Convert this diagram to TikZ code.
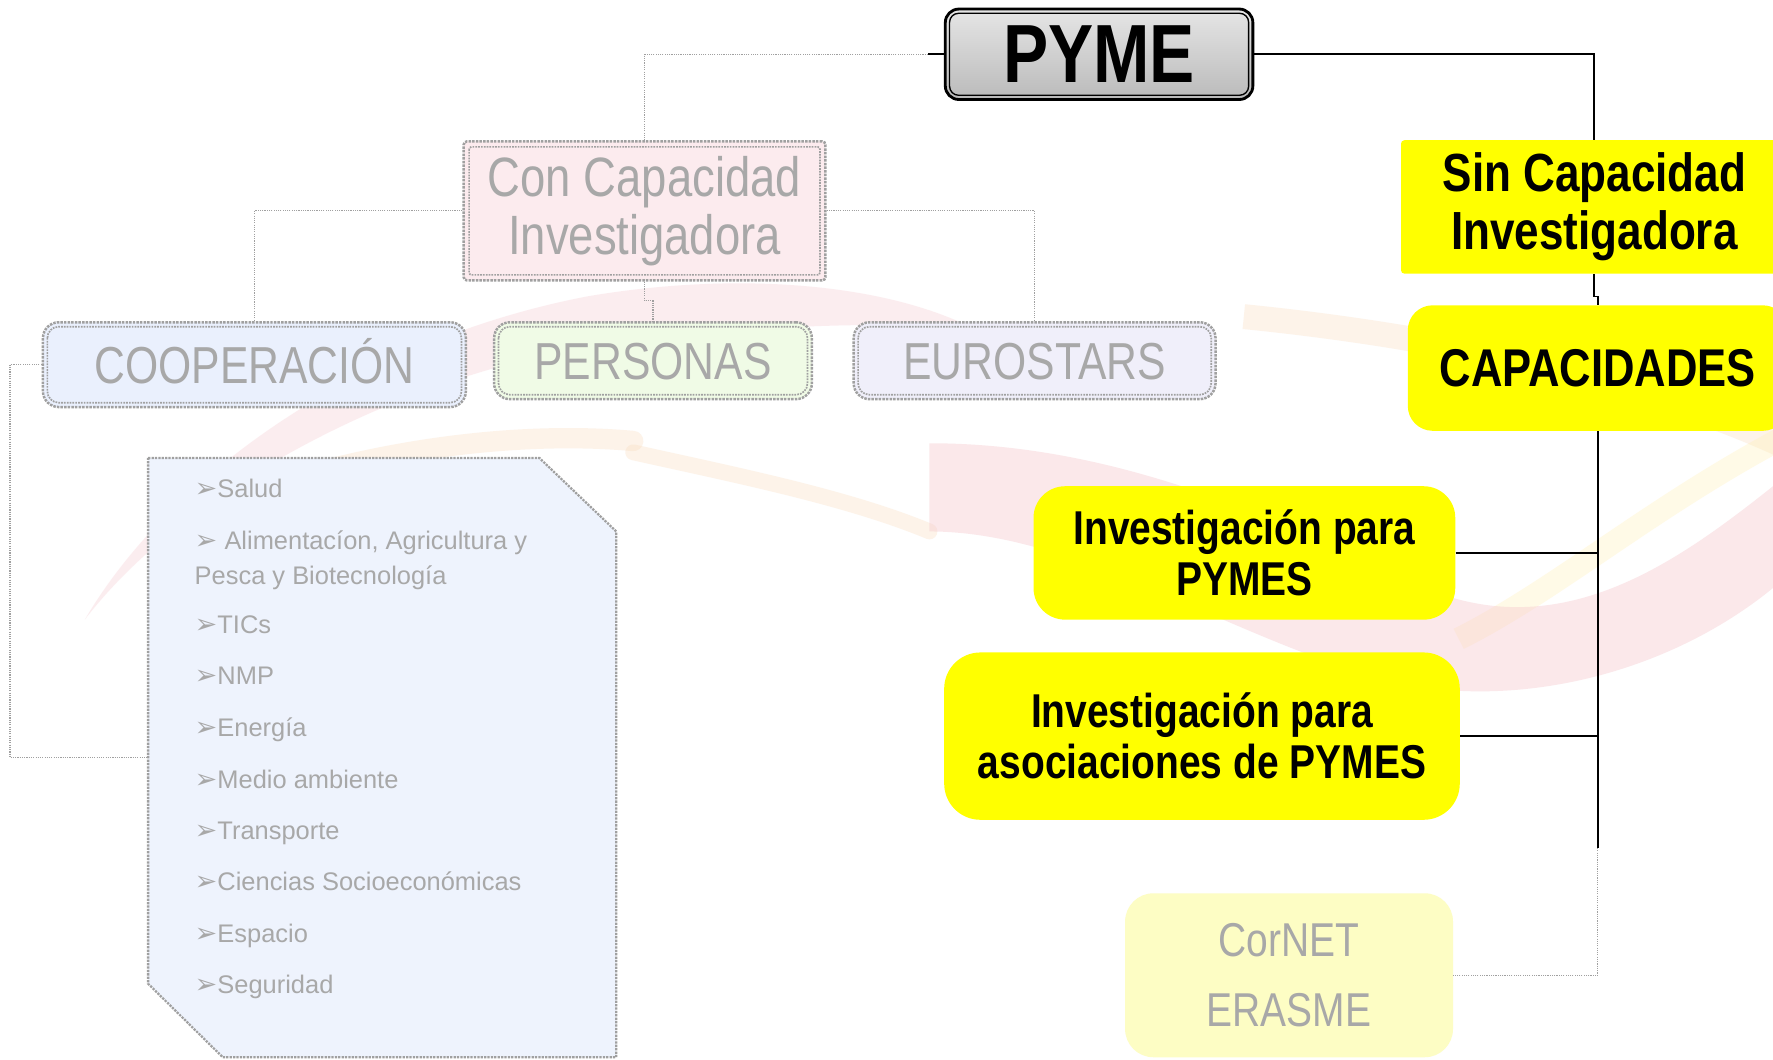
\documentclass[tikz,border=0pt]{standalone}
\usepackage{fontspec}
\setmainfont{Liberation Sans}
\newfontfamily\narrow[FakeStretch=0.82]{Liberation Sans}
\newfontfamily\dingfont{DejaVu Sans}
\definecolor{ylw}{HTML}{FFFF00}
\definecolor{pinkf}{HTML}{FCEBEE}
\definecolor{bluef}{HTML}{EAF0FD}
\definecolor{greenf}{HTML}{F0FBE6}
\definecolor{lavf}{HTML}{F0EFFA}
\definecolor{listf}{HTML}{EEF3FD}
\definecolor{cornf}{HTML}{FDFDC4}
\definecolor{fadetxt}{HTML}{A8A8A8}
\definecolor{fadeline}{HTML}{A0A0A0}
\definecolor{pinkwm}{HTML}{F5C6CC}
\definecolor{orangewm}{HTML}{F9D9B8}
\definecolor{yellowwm}{HTML}{FFF0B0}
\newcommand\arr{{\dingfont\fontsize{24}{26}\selectfont ➢}}
\tikzset{
  ybox/.style={fill=ylw, inner sep=0pt, align=center, text=black},
  fbox/.style={draw=fadeline, densely dotted, line width=2.2pt, inner sep=0pt, align=center, text=fadetxt},
  finner/.style={draw=fadeline, densely dotted, line width=1.5pt},
  fline/.style={draw=fadeline, densely dotted, line width=1pt},
  bline/.style={draw=black, line width=1.6pt},
  litem/.style={anchor=mid west, inner sep=0pt, text=fadetxt, font=\fontsize{22.5}{31}\selectfont, align=left},
}
\begin{document}
\begin{tikzpicture}[x=1pt, y=-1pt]
\clip (0,0) rectangle (1568,937);
\fill[white] (0,0) rectangle (1568,937);

% background watermark
\begin{scope}[opacity=0.3]
  \fill[pinkwm] (75,548) .. controls (150,420) and (320,300) .. (520,262) .. controls (650,240) and (780,250) .. (860,290) .. controls (760,282) and (560,292) .. (450,322) .. controls (300,362) and (150,450) .. (75,548) -- cycle;
  \draw[orangewm, line width=18pt, line cap=round] (170,455) .. controls (300,400) and (450,380) .. (560,390);
  \draw[orangewm, line width=14pt, line cap=round] (560,400) .. controls (650,420) and (750,440) .. (822,470);
  \draw[orangewm, line width=22pt] (1100,280) .. controls (1250,295) and (1450,330) .. (1600,405);
  \draw[yellowwm, line width=20pt] (1290,565) .. controls (1380,520) and (1470,440) .. (1600,375);
\end{scope}
\begin{scope}
  \clip (822,0) rectangle (1568,937);
  \fill[pinkwm, opacity=0.4] (822,392) .. controls (1000,392) and (1150,470) .. (1260,520) .. controls (1380,570) and (1480,500) .. (1568,430) -- (1568,520) .. controls (1470,600) and (1330,630) .. (1220,600) .. controls (1080,560) and (950,470) .. (822,470) -- cycle;
\end{scope}

% faded boxes
\node[fbox, fill=pinkf, rounded corners=3pt, minimum width=320pt, minimum height=123pt,
      font=\narrow\fontsize{49}{51}\selectfont] (concap) at (570,186.5) {Con Capacidad\\Investigadora};
\node[fbox, fill=bluef, rounded corners=14pt, minimum width=374pt, minimum height=75pt,
      text height=33pt, text depth=0pt,
      font=\narrow\fontsize{46}{50}\selectfont] (coop) at (225,322.5) {COOPERACIÓN};
\node[fbox, fill=greenf, rounded corners=14pt, minimum width=281pt, minimum height=68pt,
      text height=33pt, text depth=0pt,
      font=\narrow\fontsize{46}{50}\selectfont] (pers) at (577.5,319) {PERSONAS};
\node[fbox, fill=lavf, rounded corners=14pt, minimum width=320pt, minimum height=68pt,
      text height=33pt, text depth=0pt,
      font=\narrow\fontsize{46}{50}\selectfont] (euro) at (915,319) {EUROSTARS};
\draw[finner, rounded corners=2pt] ([shift={(6,6)}]concap.north west) rectangle ([shift={(-6,-6)}]concap.south east);
\foreach \n in {coop,pers,euro}
  \draw[finner, rounded corners=10pt] ([shift={(5,5)}]\n.north west) rectangle ([shift={(-5,-5)}]\n.south east);

% list box
\draw[fill=listf, draw=fadeline, densely dotted, line width=2pt]
  (131,405) -- (477,405) -- (545,470) -- (545,935) -- (197,935) -- (131,870) -- cycle;
\coordinate (listL) at (131,670);
\node[litem] (i1) at (172,437) {\arr Salud};
\node[litem] (i2) at (172,483) {\arr\ Alimentacíon, Agricultura y};
\node[litem] (i2b) at (172,514) {Pesca y Biotecnología};
\node[litem] (i3) at (172,558) {\arr TICs};
\node[litem] (i4) at (172,603) {\arr NMP};
\node[litem] (i5) at (172,649) {\arr Energía};
\node[litem] (i6) at (172,695) {\arr Medio ambiente};
\node[litem] (i7) at (172,740) {\arr Transporte};
\node[litem] (i8) at (172,785) {\arr Ciencias Socioeconómicas};
\node[litem] (i9) at (172,831) {\arr Espacio};
\node[litem] (i10) at (172,876) {\arr Seguridad};

% CorNET
\node[fill=cornf, rounded corners=25pt, minimum width=290pt, minimum height=145pt, inner sep=0pt,
      text=fadetxt, align=center, font=\narrow\fontsize{42}{62}\selectfont] (cornet) at (1140,862.5) {CorNET\\ERASME};

% PYME
\node[rounded corners=12pt, top color=black!10, bottom color=black!27, draw=black, line width=2.5pt,
      minimum width=272pt, minimum height=80pt, inner sep=0pt,
      font=\narrow\bfseries\fontsize{73}{80}\selectfont] (pyme) at (972,48) {PYME};
\draw[black, line width=1.2pt, rounded corners=8pt] ([shift={(5,5)}]pyme.north west) rectangle ([shift={(-5,-5)}]pyme.south east);

% yellow boxes
\node[ybox, rounded corners=3pt, minimum width=342pt, minimum height=118pt,
      font=\narrow\bfseries\fontsize{47.5}{51}\selectfont] (sincap) at (1410,183) {Sin Capacidad\\Investigadora};
\node[ybox, rounded corners=22pt, minimum width=336pt, minimum height=111pt,
      font=\narrow\bfseries\fontsize{47}{50}\selectfont] (capac) at (1413,325.5) {CAPACIDADES};
\node[ybox, rounded corners=28pt, minimum width=373pt, minimum height=118pt,
      font=\narrow\bfseries\fontsize{42}{45}\selectfont] (invp) at (1100.5,489) {Investigación para\\PYMES};
\node[ybox, rounded corners=32pt, minimum width=456pt, minimum height=148pt,
      font=\narrow\bfseries\fontsize{42}{45}\selectfont] (inva) at (1063,651) {Investigación para\\asociaciones de PYMES};

% connectors
\coordinate (vend) at (1413,750);
\draw[fline] (pyme.west) -| (concap.north);
\draw[bline] (pyme.west) -- ++(-14,0);
\draw[bline] (pyme.east) -| (sincap.north);
\draw[bline] (sincap.south) -- ++(0,20) -- ++(3,0) -- (capac.north);
\draw[bline] (capac.south) -- (vend);
\draw[fline] (vend) |- (cornet.east);
\draw[bline] (invp.east) -- (invp.east -| vend);
\draw[bline] (inva.east) -- (inva.east -| vend);
\draw[fline] (concap.west) -| (coop.north);
\draw[fline] (concap.east) -| (euro.north);
\draw[fline] (concap.south) -- ++(0,17) -| (pers.north);
\draw[fline] (coop.west) -- ++(-28,0) |- (listL);
\end{tikzpicture}
\end{document}
